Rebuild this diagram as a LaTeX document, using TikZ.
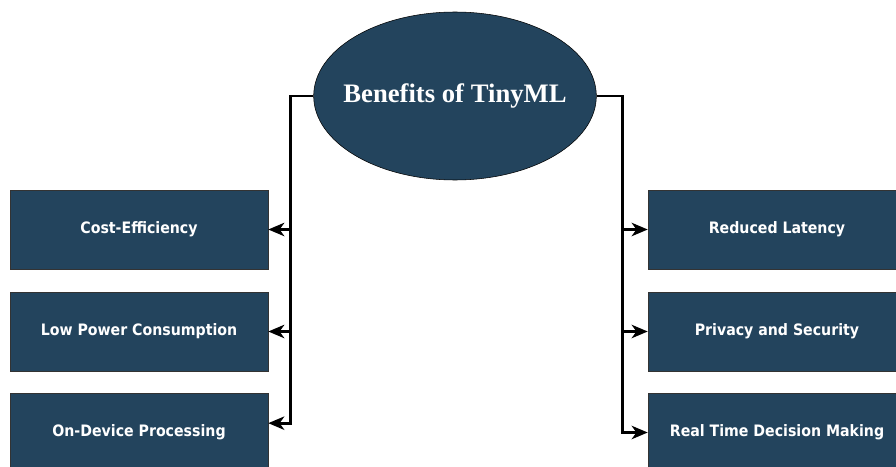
\documentclass[tikz,border=0pt]{standalone}
\usepackage{fontspec}
\setmainfont{Liberation Serif}
\newfontfamily\boxfont{DejaVu Sans Condensed}
\usetikzlibrary{arrows.meta,shapes.geometric}
\definecolor{navy}{HTML}{23445D}
\begin{document}
\begin{tikzpicture}[x=0.75pt, y=-0.75pt,
        every node/.style={text=white},
        hub/.style={ellipse, draw=black, fill=navy, inner sep=0pt, minimum width=212pt, minimum height=126pt},
        item/.style={rectangle, draw=black!80, fill=navy, minimum width=193.5pt, minimum height=59.25pt, font=\boxfont\fontsize{11.8}{13}\selectfont\bfseries},
        link/.style={line width=2.2pt, -{Stealth[length=12pt, width=10pt, inset=3.5pt]}}]
        \useasboundingbox (0,0) rectangle (896,467);
        \clip (0,0) rectangle (896,467);

        % Centre ellipse
        \node[hub, label={[font=\fontsize{20}{22}\selectfont\bfseries]center:Benefits of TinyML}] (title) at (455,96) {};

        % Left column
        \node[item] (cost)  at (139,229.5) {Cost-Efficiency};
        \node[item] (power) at (139,331.5) {Low Power Consumption};
        \node[item] (local) at (139,432.5) {On-Device Processing};

        % Right column
        \node[item] (lat)  at (777,229.5) {Reduced Latency};
        \node[item] (priv) at (777,331.5) {Privacy and Security};
        \node[item] (real) at (777,432.5) {Real Time Decision Making};

        % Connectors
        \coordinate (lbus) at (290.5,96);
        \coordinate (rbus) at (622.5,96);
        \draw[link] (title.west) -- (lbus) |- ([yshift=7pt]local.east);
        \draw[link] (lbus |- cost.east) -- (cost.east);
        \draw[link] (lbus |- power.east) -- (power.east);
        \draw[link] (title.east) -- (rbus) |- (real.west);
        \draw[link] (rbus |- lat.west) -- (lat.west);
        \draw[link] (rbus |- priv.west) -- (priv.west);
\end{tikzpicture}
\end{document}
